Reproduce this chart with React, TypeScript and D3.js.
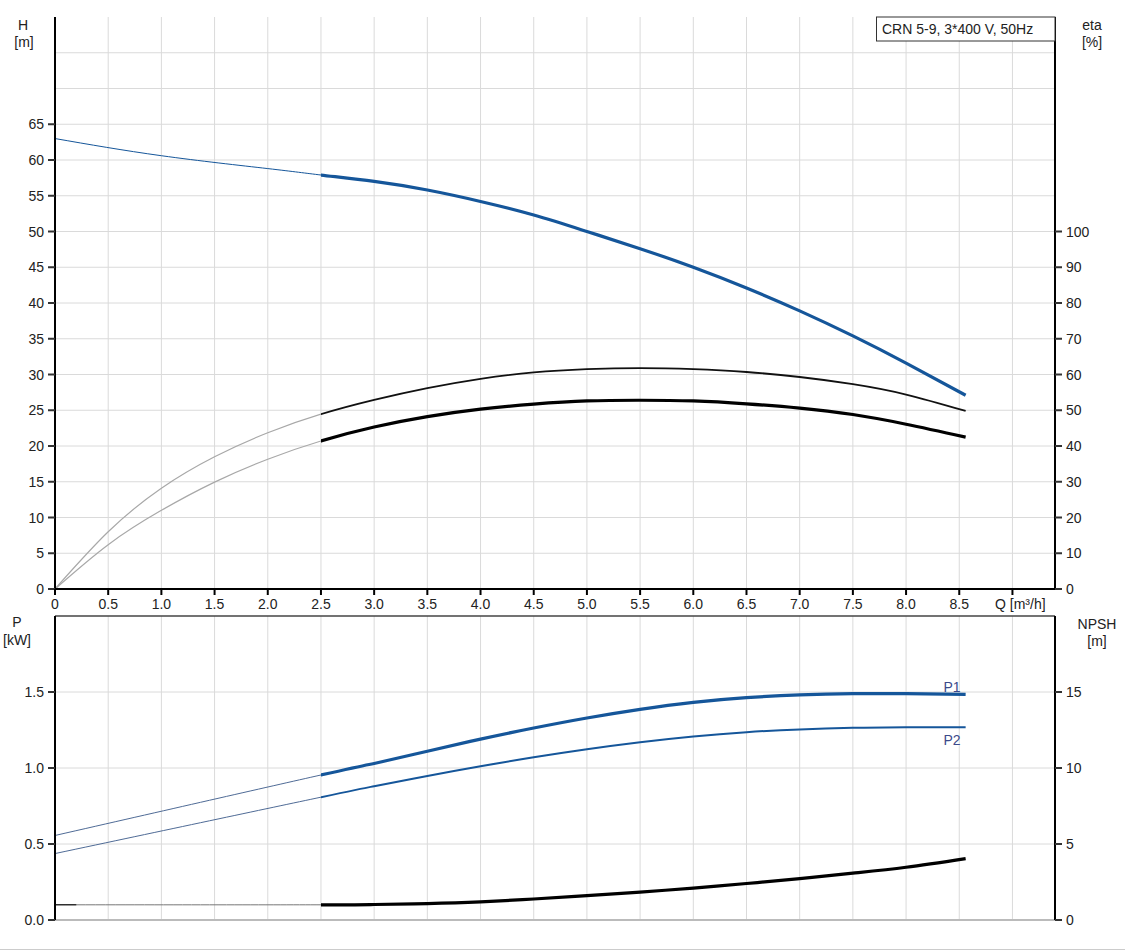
import React from 'react';
import * as d3 from 'd3';

// Pump curve data (Q in m3/h)
const qTicks = [0, 0.5, 1.0, 1.5, 2.0, 2.5, 3.0, 3.5, 4.0, 4.5, 5.0, 5.5, 6.0, 6.5, 7.0, 7.5, 8.0, 8.5];
const hTicks = [0, 5, 10, 15, 20, 25, 30, 35, 40, 45, 50, 55, 60, 65];
const hGrid = [5, 10, 15, 20, 25, 30, 35, 40, 45, 50, 55, 60, 65, 70, 75];
const etaTicks = [0, 10, 20, 30, 40, 50, 60, 70, 80, 90, 100];
const pTicks = [0.0, 0.5, 1.0, 1.5];
const npshTicks = [0, 5, 10, 15];

const headQ = [0, 1.0, 2.0, 2.5, 3.0, 3.5, 4.0, 4.5, 5.0, 5.5, 6.0, 6.5, 7.0, 7.5, 8.0, 8.56];
const headH = [63.0, 60.6, 58.8, 57.9, 57.0, 55.8, 54.2, 52.3, 50.0, 47.6, 45.0, 42.1, 38.9, 35.4, 31.6, 27.1];

const etaQ = [0, 0.5, 1.0, 1.5, 2.0, 2.5, 3.0, 3.5, 4.0, 4.5, 5.0, 5.5, 6.0, 6.5, 7.0, 7.5, 8.0, 8.56];
const etaUpper = [0, 16.0, 28.2, 37.0, 43.7, 48.9, 52.9, 56.2, 58.8, 60.6, 61.5, 61.8, 61.5, 60.7, 59.3, 57.3, 54.4, 49.8];
const etaLower = [0, 12.4, 22.0, 29.9, 36.3, 41.4, 45.3, 48.2, 50.3, 51.7, 52.6, 52.8, 52.6, 51.8, 50.6, 48.8, 46.1, 42.5];

const powQ = [0, 2.5, 3.0, 3.5, 4.0, 4.5, 5.0, 5.5, 6.0, 6.5, 7.0, 7.5, 8.0, 8.56];
const p1 = [0.556, 0.954, 1.03, 1.11, 1.19, 1.263, 1.329, 1.386, 1.432, 1.463, 1.481, 1.489, 1.489, 1.484];
const p2 = [0.437, 0.808, 0.88, 0.948, 1.012, 1.071, 1.124, 1.17, 1.208, 1.236, 1.254, 1.264, 1.268, 1.268];

const npshQ = [0, 2.5, 3.0, 3.5, 4.0, 4.5, 5.0, 5.5, 6.0, 6.5, 7.0, 7.5, 8.0, 8.56];
const npsh = [1.0, 1.0, 1.02, 1.08, 1.19, 1.38, 1.6, 1.84, 2.1, 2.4, 2.72, 3.08, 3.47, 4.04];

const W = 1125;
const H = 951;
const L = 55;
const R = 1055;
const T1 = 17;
const B1 = 589;
const T2 = 616;
const B2 = 920;
const Q_SPLIT = 2.5;
const FONT = '"Liberation Sans", Arial, sans-serif';
const BLUE = '#15569a';
const GRID = '#dadada';

const x = d3.scaleLinear().domain([0, 9.4]).range([L, R]);
const yH = d3.scaleLinear().domain([0, 80]).range([B1, T1]);
const yEta = d3.scaleLinear().domain([0, 160]).range([B1, T1]);
const yP = d3.scaleLinear().domain([0, 2]).range([B2, T2]);
const yN = d3.scaleLinear().domain([0, 20]).range([B2, T2]);

type Pt = [number, number];
const zip = (qs: number[], vs: number[]): Pt[] => qs.map((q, i) => [q, vs[i]]);

const mkLine = (ys: d3.ScaleLinear<number, number>) =>
  d3.line<Pt>().x(d => x(d[0])).y(d => ys(d[1])).curve(d3.curveNatural);

const lineH = mkLine(yH);
const lineEta = mkLine(yEta);
const lineP = mkLine(yP);
const lineN = mkLine(yN);

// one spline per curve, drawn thin left of Q_SPLIT and thick right of it
const Curve: React.FC<{ d: string; thin: string; thick: string; thinW: number; thickW: number }> = ({ d, thin, thick, thinW, thickW }) => (
  <g>
    <path d={d} fill="none" stroke={thin} strokeWidth={thinW} clipPath="url(#clipLeft)" />
    <path d={d} fill="none" stroke={thick} strokeWidth={thickW} clipPath="url(#clipRight)" />
  </g>
);

const App: React.FC = () => {
  const vGrid = qTicks.filter(q => q > 0).concat([9.0]);

  return (
    <div style={{ position: 'absolute', left: 0, top: 0, width: W, height: H, background: '#fff' }}>
      <svg width={W} height={H} style={{ display: 'block', fontFamily: FONT }}>
        <defs>
          <clipPath id="clipLeft">
            <rect x={0} y={0} width={x(Q_SPLIT)} height={H} />
          </clipPath>
          <clipPath id="clipRight">
            <rect x={x(Q_SPLIT)} y={0} width={W - x(Q_SPLIT)} height={H} />
          </clipPath>
        </defs>

        {/* top plot grid */}
        {vGrid.map(q => (
          <line key={'vg1' + q} x1={x(q)} x2={x(q)} y1={T1} y2={B1} stroke={GRID} />
        ))}
        {hGrid.map(h => (
          <line key={'hg1' + h} x1={L} x2={R} y1={yH(h)} y2={yH(h)} stroke={GRID} />
        ))}

        {/* bottom plot grid */}
        {vGrid.map(q => (
          <line key={'vg2' + q} x1={x(q)} x2={x(q)} y1={T2} y2={B2} stroke={GRID} />
        ))}
        {pTicks.filter(p => p > 0).map(p => (
          <line key={'hg2' + p} x1={L} x2={R} y1={yP(p)} y2={yP(p)} stroke={GRID} />
        ))}

        {/* efficiency curves */}
        <Curve d={lineEta(zip(etaQ, etaUpper)) || ''} thin="#a8a8a8" thick="#111" thinW={1.2} thickW={1.8} />
        <Curve d={lineEta(zip(etaQ, etaLower)) || ''} thin="#a8a8a8" thick="#000" thinW={1.2} thickW={3.2} />

        {/* head curve */}
        <Curve d={lineH(zip(headQ, headH)) || ''} thin={BLUE} thick={BLUE} thinW={1} thickW={3.2} />

        {/* power curves */}
        <Curve d={lineP(zip(powQ, p1)) || ''} thin="#4f6b96" thick={BLUE} thinW={1} thickW={3.2} />
        <Curve d={lineP(zip(powQ, p2)) || ''} thin="#4f6b96" thick={BLUE} thinW={1} thickW={2} />
        <text x={x(8.56) - 5} y={692} textAnchor="end" fontSize={14} fill="#3b4a8a">P1</text>
        <text x={x(8.56) - 5} y={745} textAnchor="end" fontSize={14} fill="#3b4a8a">P2</text>

        {/* NPSH curve */}
        <Curve d={lineN(zip(npshQ, npsh)) || ''} thin="#777" thick="#000" thinW={1} thickW={3.2} />
        <line x1={x(0)} x2={x(0.2)} y1={yN(npsh[0])} y2={yN(npsh[0])} stroke="#000" strokeWidth={1} />

        {/* top plot axes */}
        <line x1={L} x2={L} y1={T1} y2={B1} stroke="#000" strokeWidth={2} />
        <line x1={R} x2={R} y1={T1} y2={B1} stroke="#000" strokeWidth={2} />
        <line x1={L} x2={R} y1={B1} y2={B1} stroke="#000" strokeWidth={2} />
        {hTicks.map(h => (
          <g key={'ht' + h}>
            <line x1={L - 7} x2={L} y1={yH(h)} y2={yH(h)} stroke="#333" strokeWidth={2} />
            <text x={L - 11} y={yH(h) + 5} textAnchor="end" fontSize={14} fill="#222">{h}</text>
          </g>
        ))}
        {etaTicks.map(e => (
          <g key={'et' + e}>
            <line x1={R} x2={R + 7} y1={yEta(e)} y2={yEta(e)} stroke="#333" strokeWidth={2} />
            <text x={R + 11} y={yEta(e) + 5} textAnchor="start" fontSize={14} fill="#222">{e}</text>
          </g>
        ))}
        {qTicks.concat([9.0]).map(q => (
          <line key={'qt' + q} x1={x(q)} x2={x(q)} y1={B1} y2={B1 + 6} stroke="#000" strokeWidth={2} />
        ))}
        {qTicks.map(q => (
          <text key={'ql' + q} x={x(q)} y={B1 + 20} textAnchor="middle" fontSize={14} fill="#222">
            {q === 0 ? '0' : q.toFixed(1)}
          </text>
        ))}
        <text x={995} y={B1 + 20} fontSize={14} fill="#222">Q [m³/h]</text>

        <text x={23} y={30} textAnchor="middle" fontSize={14} fill="#222">H</text>
        <text x={24} y={47} textAnchor="middle" fontSize={14} fill="#222">[m]</text>
        <text x={1092} y={30} textAnchor="middle" fontSize={14} fill="#222">eta</text>
        <text x={1092} y={47} textAnchor="middle" fontSize={14} fill="#222">[%]</text>

        {/* legend box */}
        <rect x={876.5} y={T1} width={R - 876.5} height={24} fill="#fff" stroke="#333" strokeWidth={1} />
        <text x={882} y={34} fontSize={14} fill="#222">CRN 5-9, 3*400 V, 50Hz</text>

        {/* bottom plot axes */}
        <line x1={L} x2={R} y1={T2} y2={T2} stroke="#444" strokeWidth={1.5} />
        <line x1={L} x2={R} y1={B2} y2={B2} stroke="#bbb" strokeWidth={2} />
        <line x1={L} x2={L} y1={T2} y2={B2} stroke="#000" strokeWidth={2} />
        <line x1={R} x2={R} y1={T2} y2={B2} stroke="#000" strokeWidth={2} />
        {pTicks.map(p => (
          <g key={'pt' + p}>
            <line x1={L - 7} x2={L} y1={yP(p)} y2={yP(p)} stroke="#333" strokeWidth={2} />
            <text x={L - 11} y={yP(p) + 5} textAnchor="end" fontSize={14} fill="#222">{p.toFixed(1)}</text>
          </g>
        ))}
        {npshTicks.map(n => (
          <g key={'nt' + n}>
            <line x1={R} x2={R + 7} y1={yN(n)} y2={yN(n)} stroke="#333" strokeWidth={2} />
            <text x={R + 11} y={yN(n) + 5} textAnchor="start" fontSize={14} fill="#222">{n}</text>
          </g>
        ))}
        <text x={17} y={627} textAnchor="middle" fontSize={14} fill="#222">P</text>
        <text x={17} y={645} textAnchor="middle" fontSize={14} fill="#222">[kW]</text>
        <text x={1097} y={629} textAnchor="middle" fontSize={14} fill="#222">NPSH</text>
        <text x={1097} y={646} textAnchor="middle" fontSize={14} fill="#222">[m]</text>

        <line x1={0} x2={W} y1={949.5} y2={949.5} stroke="#ccc" strokeWidth={1} />
      </svg>
    </div>
  );
};

export default App;
